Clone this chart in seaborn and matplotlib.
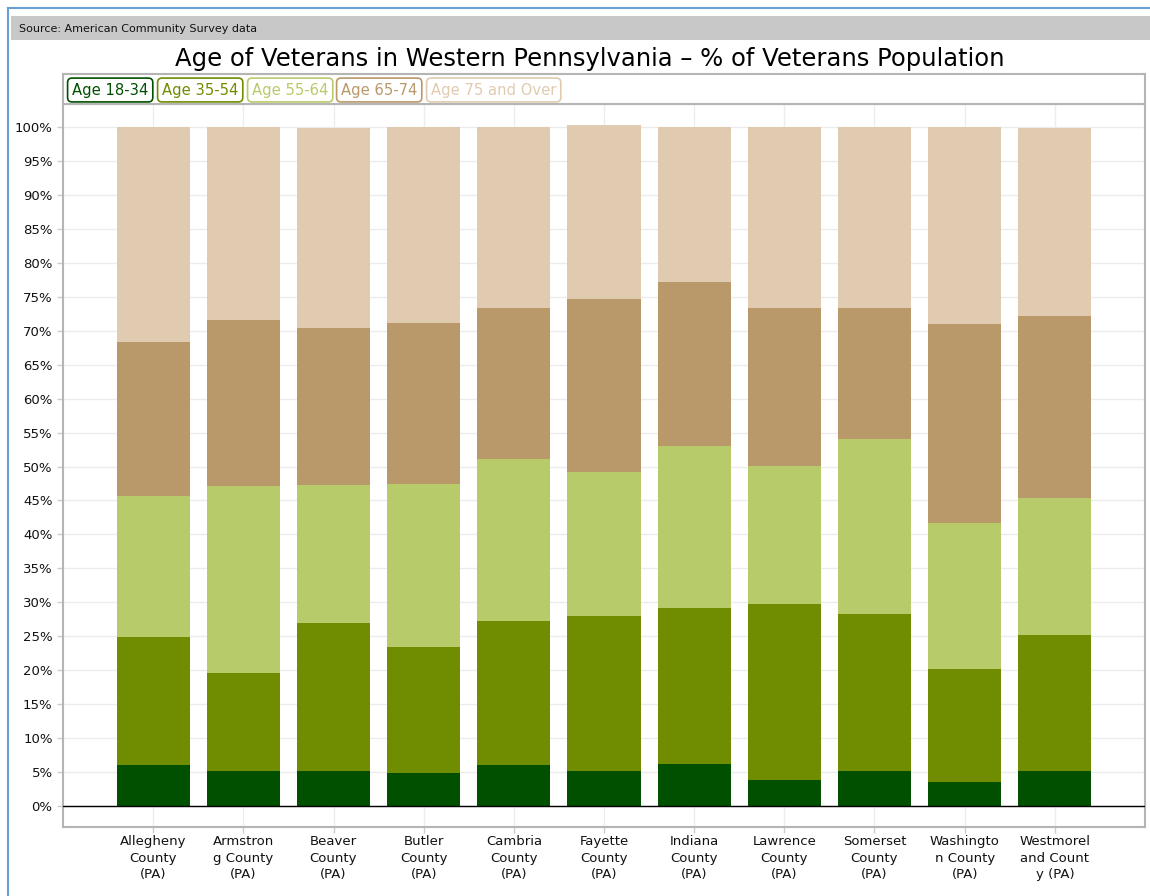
import pandas as pd
import matplotlib.pyplot as plt
import seaborn as sns
from matplotlib.patches import Rectangle
from matplotlib.lines import Line2D

# Données (% de la population de vétérans)
counties = ['Allegheny\nCounty\n(PA)', 'Armstron\ng County\n(PA)', 'Beaver\nCounty\n(PA)',
            'Butler\nCounty\n(PA)', 'Cambria\nCounty\n(PA)', 'Fayette\nCounty\n(PA)',
            'Indiana\nCounty\n(PA)', 'Lawrence\nCounty\n(PA)', 'Somerset\nCounty\n(PA)',
            'Washingto\nn County\n(PA)', 'Westmorel\nand Count\ny (PA)']
age_18_34 = [6.0, 5.2, 5.2, 4.8, 6.0, 5.2, 6.2, 3.8, 5.2, 3.5, 5.2]
age_35_54 = [18.9, 14.4, 21.8, 18.6, 21.2, 22.8, 23.0, 26.0, 23.1, 16.7, 20.0]
age_55_64 = [20.8, 27.5, 20.3, 24.0, 23.9, 21.2, 23.8, 20.3, 25.7, 21.5, 20.2]
age_65_74 = [22.6, 24.5, 23.1, 23.7, 22.2, 25.5, 24.2, 23.2, 19.3, 29.3, 26.8]
age_75_over = [31.7, 28.4, 29.5, 28.9, 26.7, 25.6, 22.8, 26.7, 26.7, 29.0, 27.7]

groups = ['Age 18-34', 'Age 35-54', 'Age 55-64', 'Age 65-74', 'Age 75 and Over']
colors = ['#005000', '#708c00', '#b8cb6b', '#b9986a', '#e0cbb1']
legend_x = [72, 162, 252, 341, 431]

df = pd.DataFrame({'county': counties, 'Age 18-34': age_18_34, 'Age 35-54': age_35_54,
                   'Age 55-64': age_55_64, 'Age 65-74': age_65_74,
                   'Age 75 and Over': age_75_over})
cum = df[groups].cumsum(axis=1)
cum['county'] = df['county']

W, H = 1150, 896
fig = plt.figure(figsize=(W / 100, H / 100), dpi=100)
fig.patch.set_facecolor('white')

# cadre bleu + bandeau source
fig.add_artist(Line2D([8 / W, 8 / W], [0, 1 - 8 / H], color='#6a9fd4', lw=1.5))
fig.add_artist(Line2D([8 / W, 1], [1 - 8 / H, 1 - 8 / H], color='#6a9fd4', lw=1.5))
fig.add_artist(Rectangle((11 / W, 1 - 40 / H), 1, 24 / H, color='#c8c8c8', lw=0))
fig.text(19 / W, 1 - 29 / H, 'Source: American Community Survey data', fontsize=8,
         va='center', color='#111111')
fig.text(590 / W, 1 - 59 / H, 'Age of Veterans in Western Pennsylvania \u2013 % of Veterans Population',
         fontsize=17.5, ha='center', va='center', color='black')

# axe principal
left, right, top, bottom = 63, 1145, 104, 827
ax = fig.add_axes([left / W, 1 - bottom / H, (right - left) / W, (bottom - top) / H])
sns.set_style('white')

for g, c in zip(groups[::-1], colors[::-1]):
    sns.barplot(data=cum, x='county', y=g, color=c, saturation=1, width=0.81, ax=ax,
                linewidth=0, edgecolor='none', zorder=2)

ax.set_xlim(-1, 11)
ax.set_ylim(-3.1, 103.4)
ax.set_yticks(range(0, 101, 5))
ax.set_yticklabels([f'{v}%' for v in range(0, 101, 5)], fontsize=9.5)
ax.set_xticks(range(len(counties)))
ax.set_xticklabels(counties, fontsize=9.5, linespacing=1.35)
ax.set_xlabel('')
ax.set_ylabel('')
ax.grid(True, color='#ececec', lw=1, zorder=0)
ax.set_axisbelow(True)
ax.axhline(0, color='black', lw=1, zorder=3)
for s in ax.spines.values():
    s.set_color('#b5b5b5')
    s.set_linewidth(1.5)
ax.tick_params(axis='both', colors='#cccccc', labelcolor='#111111', length=4, width=1)
ax.tick_params(axis='x', pad=2)

# légende en haut
lax = fig.add_axes([left / W, 1 - top / H, (right - left) / W, 30 / H])
lax.set_xticks([])
lax.set_yticks([])
for s in lax.spines.values():
    s.set_color('#b5b5b5')
    s.set_linewidth(1.5)
for g, c, x in zip(groups, colors, legend_x):
    fig.text(x / W, 1 - 90 / H, g, color=c, fontsize=10.6, va='center',
             bbox=dict(boxstyle='round,pad=0.3,rounding_size=0.3', fc='white', ec=c, lw=1.2))

plt.savefig('out.png', dpi=100)
